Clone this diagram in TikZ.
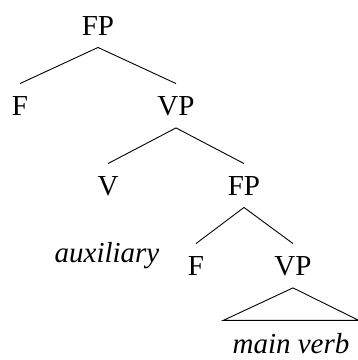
\documentclass[tikz,border=0pt]{standalone}
\usepackage{fontspec}
\setmainfont{Liberation Serif}

\begin{document}
\begin{tikzpicture}[x=1pt, y=-1pt, line width=0.9pt,
  every node/.style={font=\fontsize{29}{34}\selectfont, anchor=base,
    inner xsep=4pt, inner ysep=12pt}]
  \useasboundingbox (0,0) rectangle (358,360);
  \node (FP) at (98,35) {FP};
  \node (F) at (20,115) {F};
  \node (VP) at (176,115) {VP};
  \node (V) at (108,195) {V};
  \node (FP2) at (244,195) {FP};
  \node (aux) at (107,262) {\itshape auxiliary};
  \node (F2) at (196,275) {F};
  \node (VP2) at (293,275) {VP};
  \node[inner xsep=9pt] (MV) at (291,353) {\itshape main verb};
  \draw (FP.south) -- (F.north);
  \draw (FP.south) -- (VP.north);
  \draw (VP.south) -- (V.north);
  \draw (VP.south) -- (FP2.north);
  \draw (FP2.south) -- (F2.north);
  \draw (FP2.south) -- (VP2.north);
  % triangle over the main verb
  \draw (VP2.south) -- (MV.north west) -- (MV.north east) -- cycle;
\end{tikzpicture}
\end{document}
